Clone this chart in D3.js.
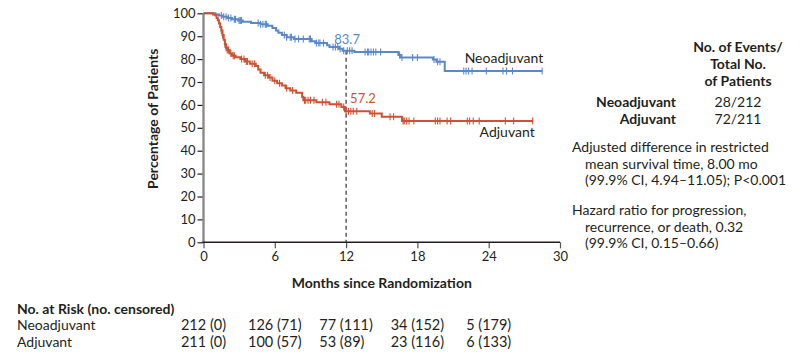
<!DOCTYPE html>
<html><head><meta charset="utf-8">
<script src="https://cdn.jsdelivr.net/npm/d3@7"></script>
<style>
body{margin:0;background:#fff;}
svg text{font-family:Lato,"Open Sans",sans-serif;fill:#231f20;}
</style></head>
<body><svg id="c" width="805" height="364"></svg>
<script>
// ---- data ----
const neoSteps = [[0,100],[1.0,99.5],[1.3,99.0],[1.6,98.5],[2.0,98.0],[2.4,97.4],[2.9,96.9],[3.3,96.3],[4.0,95.8],[4.8,95.2],[5.4,94.6],[5.8,93.6],[6.1,92.5],[6.3,91.5],[6.6,90.5],[7.0,89.5],[7.6,88.8],[9.1,87.8],[9.4,87.0],[10.4,86.0],[10.6,85.3],[11.4,84.5],[11.7,83.7],[12.7,83.1],[16.4,81.8],[16.6,80.7],[19.3,79.8],[19.6,78.8],[20.3,74.8]];
const neoCensor = [1.5,1.7,1.9,2.1,2.3,2.6,2.7,3.0,3.1,3.2,4.6,4.8,5.0,5.2,5.3,6.8,7.0,7.3,7.4,7.7,8.0,8.4,8.9,9.0,9.5,9.7,9.8,10.1,10.9,11.1,11.3,11.5,11.8,12.1,12.3,12.5,13.6,13.8,13.9,14.1,14.3,14.5,14.9,16.5,16.7,17.6,18.0,19.4,19.7,19.9,21.9,22.1,22.3,22.6,23.8,25.2,25.5,26.0,28.5];
const adjSteps = [[0,100],[0.8,99.5],[1.0,99.0],[1.1,98.0],[1.2,97.0],[1.3,95.5],[1.4,94.0],[1.5,92.5],[1.6,90.5],[1.7,88.5],[1.8,86.5],[1.9,85.0],[2.0,84.0],[2.2,82.5],[2.4,81.5],[2.7,80.8],[3.1,80.0],[3.5,79.0],[3.9,78.0],[4.4,77.0],[4.6,75.5],[4.8,74.0],[5.1,73.0],[5.5,72.0],[5.8,70.5],[6.2,69.5],[6.6,68.5],[6.9,67.3],[7.3,66.3],[7.8,65.3],[8.3,63.5],[8.4,62.0],[9.5,61.2],[10.6,60.3],[11.6,59.1],[11.9,57.2],[14.0,56.2],[15.0,54.8],[16.7,53.0]];
const adjCensor = [1.5,1.6,1.8,1.9,2.0,2.1,2.3,2.5,2.6,3.2,3.4,3.6,3.7,4.1,4.3,5.2,5.4,5.6,6.0,6.4,7.0,7.5,8.5,8.6,8.8,9.0,9.3,10.0,10.3,11.2,11.4,11.8,12.0,12.2,12.4,12.6,12.9,14.2,14.4,15.7,16.0,16.8,16.9,17.1,17.3,17.7,19.5,19.7,19.9,20.5,20.8,22.2,22.4,22.7,23.2,25.4,26.1,27.7];
const landmark = 12;
const landmarkNeo = 83.7;
const landmarkAdj = 57.2;
const xTicks = [0,6,12,18,24,30];
const yTicks = [0,10,20,30,40,50,60,70,80,90,100];
const riskTimes = [0,6,12,18,24];
const riskNeo = ["212 (0)","126 (71)","77 (111)","34 (152)","5 (179)"];
const riskAdj = ["211 (0)","100 (57)","53 (89)","23 (116)","6 (133)"];
const groups = ["Neoadjuvant","Adjuvant"];
const events = ["28/212","72/211"];
const eventsHeader = ["No. of Events/","Total No.","of Patients"];
const note1 = ["Adjusted difference in restricted","mean survival time, 8.00 mo","(99.9% CI, 4.94\u201311.05); P<0.001"];
const note2 = ["Hazard ratio for progression,","recurrence, or death, 0.32","(99.9% CI, 0.15\u20130.66)"];

const BLUE = "#5a89c8", RED = "#cd5234", INK = "#231f20";
const FS = "14px";
const svg = d3.select("#c");
const x = d3.scaleLinear().domain([0,30]).range([203.5,560]);
const y = d3.scaleLinear().domain([0,100]).range([242.3,13.3]);

// axes
const yAx = svg.append("g").attr("transform","translate(203.5,0)")
  .call(d3.axisLeft(y).tickValues(yTicks).tickSize(6).tickPadding(2));
yAx.select(".domain").remove();
yAx.selectAll(".tick line").attr("stroke",INK).attr("stroke-width",1.2);
yAx.selectAll(".tick text").style("font-size","13px").attr("fill",INK);
svg.append("line").attr("x1",x(0)).attr("x2",x(0)).attr("y1",y(100)).attr("y2",y(0))
  .attr("stroke","#8a8a8a").attr("stroke-width",2.4);

const xAx = svg.append("g").attr("transform",`translate(0,${y(0)})`)
  .call(d3.axisBottom(x).tickValues(xTicks).tickSize(6).tickPadding(3));
xAx.select(".domain").remove();
xAx.selectAll(".tick line").attr("stroke","#555").attr("stroke-width",1.2);
xAx.selectAll(".tick text").style("font-size","13px").attr("fill",INK);
svg.append("line").attr("x1",x(0)-1).attr("x2",x(30)).attr("y1",y(0)).attr("y2",y(0))
  .attr("stroke",INK).attr("stroke-width",1.5);

// titles
svg.append("text").attr("transform",`translate(158,${(y(0)+y(100))/2-9}) rotate(-90)`)
  .attr("text-anchor","middle").style("font-size",FS).style("font-weight","bold")
  .text("Percentage of Patients");
svg.append("text").attr("x",(x(0)+x(30))/2).attr("y",288)
  .attr("text-anchor","middle").style("font-size",FS).style("font-weight","bold")
  .text("Months since Randomization");

// landmark dashed line
svg.append("line").attr("x1",x(landmark)).attr("x2",x(landmark))
  .attr("y1",y(landmarkNeo)).attr("y2",y(0))
  .attr("stroke",INK).attr("stroke-width",1.1).attr("stroke-dasharray","4,3");

function stepAt(steps,t){let v=steps[0][1];for(const s of steps){if(s[0]<=t)v=s[1];}return v;}
const line = d3.line().x(d=>x(d[0])).y(d=>y(d[1])).curve(d3.curveStepAfter);
function drawCurve(steps,censor,color){
  const end = d3.max(censor);
  const pts = steps.concat([[end, steps[steps.length-1][1]]]);
  svg.append("path").attr("d",line(pts)).attr("fill","none")
    .attr("stroke",color).attr("stroke-width",2);
  svg.append("g").selectAll("line").data(censor).join("line")
    .attr("x1",d=>x(d)).attr("x2",d=>x(d))
    .attr("y1",d=>y(stepAt(steps,d))-3.5).attr("y2",d=>y(stepAt(steps,d))+3.5)
    .attr("stroke",color).attr("stroke-width",1.1);
  return end;
}
const neoEnd = drawCurve(neoSteps,neoCensor,BLUE);
const adjEnd = drawCurve(adjSteps,adjCensor,RED);

svg.append("text").attr("x",x(landmark)+1).attr("y",y(landmarkNeo)-7)
  .attr("text-anchor","middle").style("font-size","13px").style("fill",BLUE).text(landmarkNeo.toFixed(1));
svg.append("text").attr("x",x(landmark)+4).attr("y",y(landmarkAdj)-8)
  .attr("text-anchor","start").style("font-size","13px").style("fill",RED).text(landmarkAdj.toFixed(1));
svg.append("text").attr("x",x(neoEnd)+1).attr("y",y(stepAt(neoSteps,neoEnd))-8)
  .attr("text-anchor","end").style("font-size",FS).text(groups[0]);
svg.append("text").attr("x",x(adjEnd)+2).attr("y",y(stepAt(adjSteps,adjEnd))+16)
  .attr("text-anchor","end").style("font-size",FS).text(groups[1]);

// right side annotations
eventsHeader.forEach((t,i)=>svg.append("text").attr("x",738).attr("y",52+i*17)
  .attr("text-anchor","middle").style("font-size",FS).style("font-weight","bold").text(t));
groups.forEach((g,i)=>{
  svg.append("text").attr("x",676).attr("y",107+i*17).attr("text-anchor","end")
    .style("font-size",FS).style("font-weight","bold").text(g);
  svg.append("text").attr("x",738).attr("y",107+i*17).attr("text-anchor","middle")
    .style("font-size",FS).text(events[i]);
});
note1.forEach((t,i)=>svg.append("text").attr("x",i?585:572).attr("y",152+i*16.5)
  .style("font-size",FS).text(t));
note2.forEach((t,i)=>svg.append("text").attr("x",i?585:572).attr("y",215+i*16.5)
  .style("font-size",FS).text(t));

// risk table
svg.append("text").attr("x",17).attr("y",314).style("font-size",FS).style("font-weight","bold")
  .text("No. at Risk (no. censored)");
[[groups[0],330],[groups[1],347]].forEach(([g,yy])=>{
  svg.append("text").attr("x",17).attr("y",yy).style("font-size",FS).text(g);
});
riskTimes.forEach((t,i)=>{
  const a = svg.append("text").attr("y",330).style("font-size","14.5px").text(riskNeo[i]);
  const w = a.node().getComputedTextLength();
  const sx = x(t)-w/2;
  a.attr("x",sx);
  svg.append("text").attr("x",sx).attr("y",347).style("font-size","14.5px").text(riskAdj[i]);
});
</script></body></html>
